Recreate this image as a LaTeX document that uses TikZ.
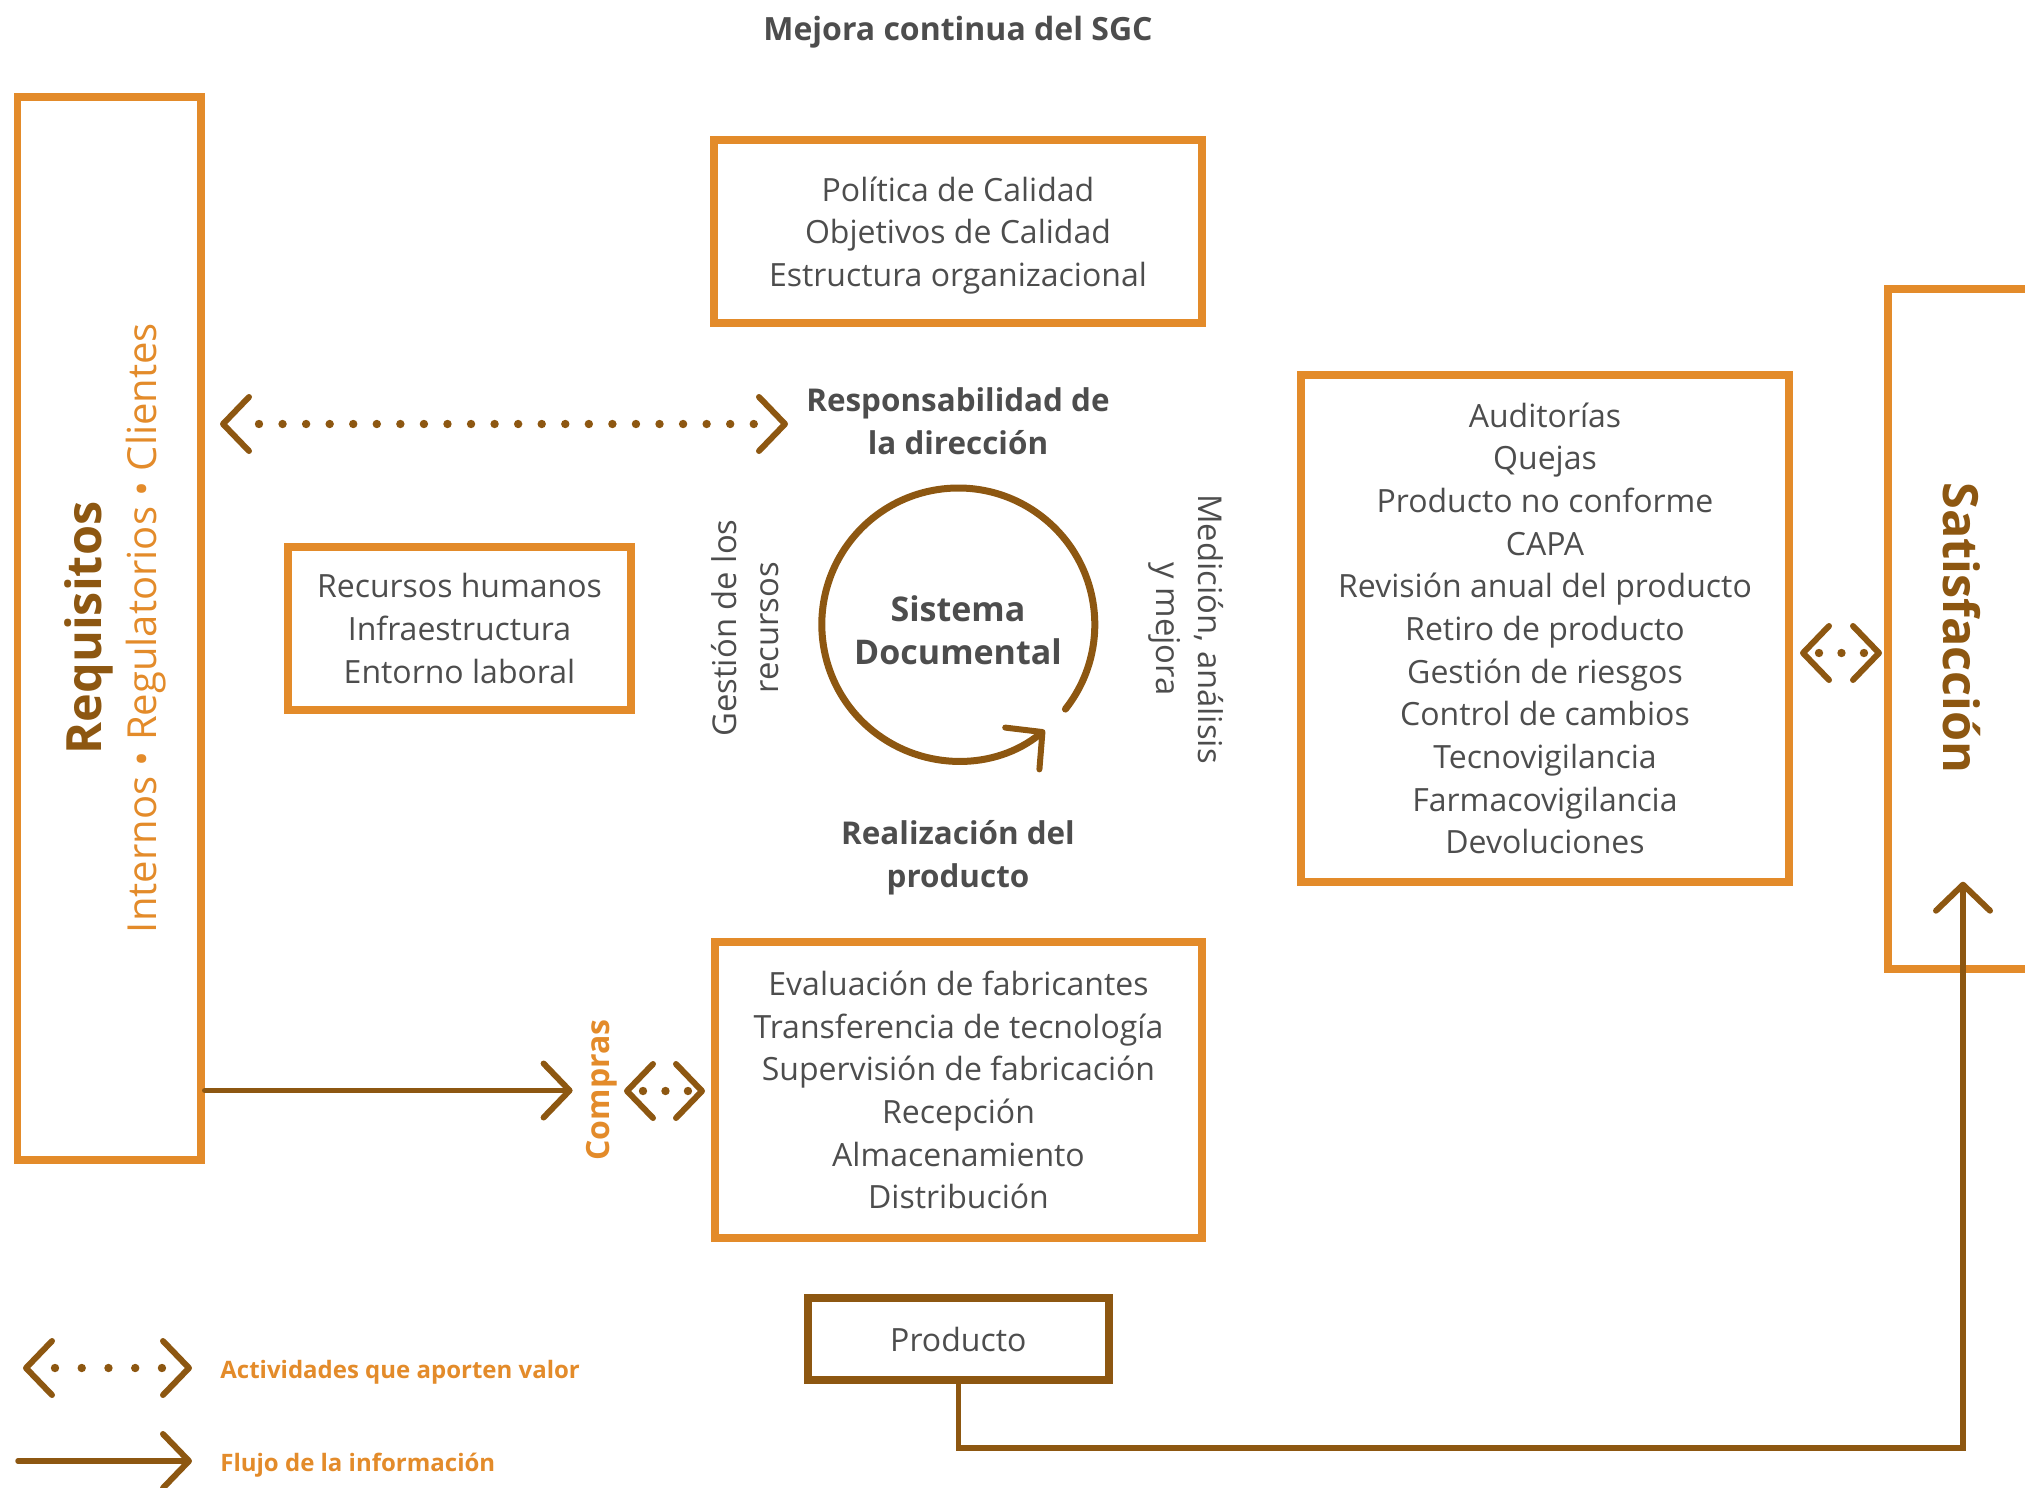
\documentclass[tikz,border=0pt]{standalone}
\usepackage{fontspec}
\setmainfont{Open Sans}
\usetikzlibrary{arrows.meta,positioning}

\definecolor{naranja}{RGB}{227,139,42}
\definecolor{cafe}{RGB}{141,87,17}
\definecolor{gris}{RGB}{77,77,77}

\tikzset{
  barba/.tip={Straight Barb[length=13pt,width=27pt,line width=3pt,round]},
  caja/.style={rectangle, draw=naranja, line width=3.75pt, inner sep=0pt,
    text=gris, align=center, font=\fontsize{16}{21.33}\selectfont},
  etiqueta/.style={text=gris, align=center, inner sep=0pt,
    font=\fontsize{16.4}{21.33}\selectfont},
  negrita/.style={etiqueta, font=\fontsize{15.7}{21.33}\selectfont\bfseries},
  grande/.style={inner sep=0pt, text=cafe, font=\fontsize{24.3}{30}\selectfont\bfseries},
  leyenda/.style={inner sep=0pt, anchor=west, text=naranja,
    font=\fontsize{12}{15}\selectfont\bfseries},
  flujo/.style={draw=cafe, line width=2.75pt, line cap=round, -barba},
  valor/.style n args={3}{draw=cafe, line width=3pt, barba-barba,
    line cap=butt, dash pattern=on 0pt off 4000pt,
    postaction={draw=cafe, -, line width=4.2pt, line cap=round,
      dash pattern=on 0pt off #1, shorten <=#2, shorten >=#3}}
}

\begin{document}
\begin{tikzpicture}[x=0.5pt, y=-0.5pt]

  \useasboundingbox (0,0) rectangle (2025,1488);

  % cajas
  \node[caja, minimum width=91.75pt, minimum height=531.5pt] (req) at (109.25,628.5) {};
  \node[caja, minimum width=244pt, minimum height=91.5pt, text depth=-2.5pt] (pol) at (958,231.5)
    {Política de Calidad\\Objetivos de Calidad\\Estructura organizacional};
  \node[caja, minimum width=171.5pt, minimum height=81.5pt] (rec) at (459.5,628.5)
    {Recursos humanos\\Infraestructura\\Entorno laboral};
  \node[caja, minimum width=243.5pt, minimum height=148pt] (eva) at (958.5,1090)
    {Evaluación de fabricantes\\Transferencia de tecnología\\Supervisión de fabricación\\Recepción\\Almacenamiento\\Distribución};
  \node[caja, minimum width=244pt, minimum height=253.5pt] (aud) at (1545,628.5)
    {Auditorías\\Quejas\\Producto no conforme\\CAPA\\Revisión anual del producto\\Retiro de producto\\Gestión de riesgos\\Control de cambios\\Tecnovigilancia\\Farmacovigilancia\\Devoluciones};
  \node[caja, minimum width=120pt, minimum height=340pt] (sat) at (2008,629) {};
  \node[caja, draw=cafe, line width=4pt, minimum width=150.3pt, minimum height=41pt] (prod) at (958.3,1339) {Producto};

  % textos
  \node[negrita, font=\fontsize{16}{21.33}\selectfont\bfseries] (titulo) at (958,32) {Mejora continua del SGC};
  \node[grande, rotate=90] (requisitos) at (89,628) {Requisitos};
  \node[inner sep=0pt, rotate=90, text=naranja, font=\fontsize{20}{24}\selectfont] (partes) at (146,628)
    {Internos • Regulatorios • Clientes};
  \node[grande, rotate=-90] (satisf) at (1962,628) {Satisfacción};
  \node[negrita] (resp) at (958,421) {Responsabilidad de\\la dirección};
  \node[etiqueta, rotate=90] (gest) at (745,628) {Gestión de los\\recursos};
  \node[etiqueta, rotate=-90] (med) at (1186,629) {Medición, análisis\\y mejora};
  \node[negrita, font=\fontsize{17}{21.33}\selectfont\bfseries] (sd) at (958,630) {Sistema\\Documental};
  \node[negrita] (real) at (958,858) {Realización del\\producto};
  \node[inner sep=0pt, rotate=90, text=naranja, font=\fontsize{16}{20}\selectfont\bfseries] (compras) at (602,1090) {Compras};

  % ciclo
  \coordinate (centro) at (958.3,624.5);
  \draw[cafe, line width=3.5pt, line cap=round, -barba]
    ([shift={(-38.3:68.25pt)}]centro) arc[start angle=-38.3, end angle=309.3, radius=68.25pt];

  % conectores
  \coordinate (v1a) at (220,424);
  \coordinate (v1b) at (788,424);
  \draw[valor={11.78pt}{19.5pt}{17pt}] (v1a) -- (v1b);

  \coordinate (v2a) at (624,1091);
  \coordinate (v2b) at (705,1091);
  \draw[valor={11.24pt}{9.5pt}{8.5pt}] (v2a) -- (v2b);

  \coordinate (v3a) at (1800,653);
  \coordinate (v3b) at (1882,653);
  \draw[valor={11.24pt}{9.5pt}{9pt}] (v3a) -- (v3b);

  \coordinate (c1) at (572.6,1090.5);
  \draw[flujo] (req.east |- c1) -- (c1);

  \coordinate (esq) at (1963,1448);
  \coordinate (satin) at (1963,881.7);
  \draw[flujo, line join=miter] (prod.south) |- (esq) -- (satin);

  % leyenda
  \coordinate (l1a) at (23,1368);
  \coordinate (l1b) at (192,1368);
  \draw[valor={13.37pt}{16pt}{15pt}] (l1a) -- (l1b);
  \node[leyenda, right=14pt of l1b, yshift=-2pt] (ley1) {Actividades que aporten valor};

  \coordinate (l2a) at (18,1461);
  \coordinate (l2b) at (192,1461);
  \draw[flujo] (l2a) -- (l2b);
  \node[leyenda, right=14pt of l2b, yshift=-2pt] (ley2) {Flujo de la información};

\end{tikzpicture}
\end{document}
